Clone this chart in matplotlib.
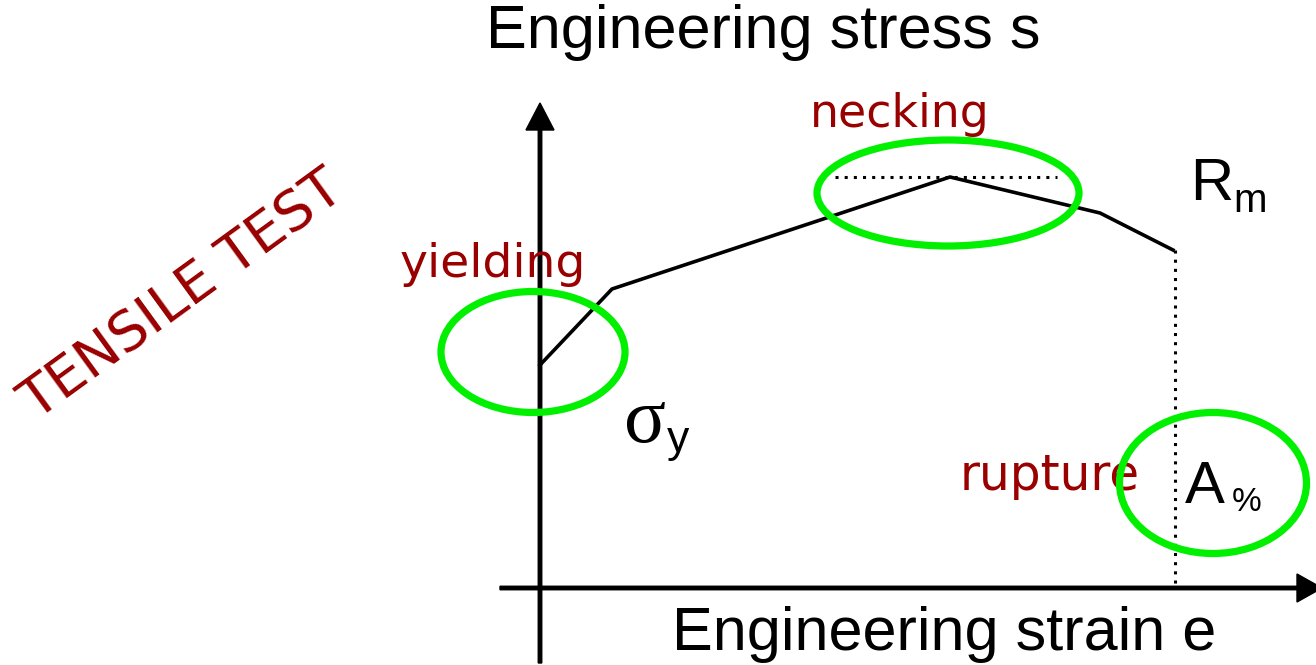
import matplotlib
matplotlib.use("Agg")
import matplotlib.pyplot as plt
from matplotlib.patches import Ellipse
from matplotlib import font_manager

# Schematic tensile curve (units: arbitrary, origin at axis crossing)
curve_strain = [0, 72, 410, 560, 633]
curve_stress = [223, 299, 411, 375, 338]
uts_index = 2        # peak -> Rm
rupture_index = 4    # end of curve -> A%

region_labels = ["yielding", "necking", "rupture"]

names = {f.name for f in font_manager.fontManager.ttflist}
sans = "Liberation Sans Narrow" if "Liberation Sans Narrow" in names else "Liberation Sans"
red = "#990000"
green = "#00f000"

fig = plt.figure(figsize=(13.16, 6.65), dpi=100)
ax = fig.add_axes([0, 0, 1, 1])
ax.set_xlim(-540, 776)
ax.set_ylim(-77, 588)
ax.axis("off")

# ── Achsen mit Pfeilen ──
ax.arrow(0, -75, 0, 560, width=3.5, head_width=28, head_length=27,
         length_includes_head=True, color="k", zorder=3)
ax.arrow(-40, 0, 822, 0, width=3.5, head_width=28, head_length=25,
         length_includes_head=True, color="k", zorder=3, clip_on=False)

# ── Kurve ──
ax.plot(curve_strain, curve_stress, color="k", lw=2.6, zorder=4)

# ── Hilfslinien (punktiert) ──
xs, ys = curve_strain[uts_index], curve_stress[uts_index]
ax.plot([xs - 115, xs + 107], [ys, ys], color="k", lw=2.2, ls=(0, (1, 2.0)))
xr, yr = curve_strain[rupture_index], curve_stress[rupture_index]
ax.plot([xr + 2, xr + 2], [yr, 3], color="k", lw=2.2, ls=(0, (1, 2.0)))

# ── Ellipsen ──
for (cx, cy, w, h) in [(-7, 236, 184, 121), (408, 395, 262, 106), (673, 105, 187, 141)]:
    ax.add_patch(Ellipse((cx, cy), w, h, fill=False, ec=green, lw=5.2, zorder=5))

# ── Achsentitel ──
ax.text(223, 540, "Engineering stress s", fontsize=44, family=sans,
        ha="center", va="baseline")
ax.text(404, -62, "Engineering strain e", fontsize=44, family=sans,
        ha="center", va="baseline")

# ── Kennwerte ──
ax.text(650, 388, "R", fontsize=43, family=sans, ha="left", va="baseline")
ax.text(693, 376, "m", fontsize=29, family=sans, ha="left", va="baseline")
ax.text(84, 146, "σ", fontsize=56, family="Liberation Serif", ha="left", va="baseline")
ax.text(127, 136, "y", fontsize=32, family=sans, ha="left", va="baseline")
ax.text(645, 85, "A", fontsize=43, family=sans, ha="left", va="baseline")
ax.text(692, 77, "%", fontsize=24, family=sans, ha="left", va="baseline")

# ── Rote Beschriftungen ──
ax.text(270, 461, region_labels[1], fontsize=33, color=red, ha="left", va="baseline")
ax.text(-140, 311, region_labels[0], fontsize=34, color=red, ha="left", va="baseline")
ax.text(420, 98, region_labels[2], fontsize=35, color=red, ha="left", va="baseline")
ax.text(-358, 292, "TENSILE TEST", fontsize=40, color=red, rotation=36,
        ha="center", va="center", rotation_mode="anchor")

fig.savefig("out.png", dpi=100)
